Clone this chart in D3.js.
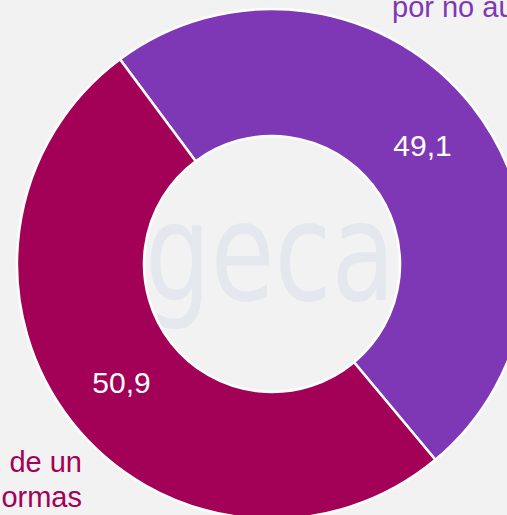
<!DOCTYPE html>
<html>
<head>
<meta charset="utf-8">
<script src="https://cdn.jsdelivr.net/npm/d3@7"></script>
<style>
  html, body { margin: 0; padding: 0; background: #f2f2f2; overflow: hidden; }
  svg { display: block; }
</style>
</head>
<body>
<svg id="chart" width="507" height="515"></svg>
<script>
const categories = ["por no au", "de un\normas"];
const values = [49.1, 50.9];
const valueLabels = ["49,1", "50,9"];
const colors = ["#7f38b5", "#a30057"];

const W = 507, H = 515;
const cx = 272, cy = 264, R = 255, r = 128;
const startDeg = -36.6;

const svg = d3.select("#chart");
svg.append("rect").attr("width", W).attr("height", H).attr("fill", "#f2f2f2");

// watermark
svg.append("text")
  .attr("x", cx - 2).attr("y", 300)
  .attr("text-anchor", "middle")
  .attr("font-family", "'DejaVu Sans', sans-serif")
  .attr("font-size", 138)
  .attr("textLength", 250)
  .attr("lengthAdjust", "spacingAndGlyphs")
  .attr("fill", "#e4e7ee")
  .text("geca");

const start = startDeg * Math.PI / 180;
const pie = d3.pie().sort(null).value(d => d)
  .startAngle(start).endAngle(start + 2 * Math.PI);
const arcs = pie(values);
const arc = d3.arc().innerRadius(r).outerRadius(R);

const g = svg.append("g").attr("transform", `translate(${cx},${cy})`);
g.selectAll("path").data(arcs).enter().append("path")
  .attr("d", arc)
  .attr("fill", (d, i) => colors[i])
  .attr("stroke", "#ffffff")
  .attr("stroke-width", 2.5)
  .attr("stroke-linejoin", "round");

g.selectAll("text.val").data(arcs).enter().append("text")
  .attr("class", "val")
  .attr("transform", d => `translate(${arc.centroid(d)})`)
  .attr("text-anchor", "middle")
  .attr("dy", "0.36em")
  .attr("font-family", "'Liberation Sans', Arial, sans-serif")
  .attr("font-size", 30)
  .attr("fill", "#ffffff")
  .text((d, i) => valueLabels[i]);

// outer labels (clipped by the frame, as in the reference)
svg.append("text")
  .attr("x", 392).attr("y", 17)
  .attr("font-family", "'Liberation Sans', Arial, sans-serif")
  .attr("font-size", 29)
  .attr("fill", colors[0])
  .text(categories[0]);

const lines = categories[1].split("\n");
svg.append("g").selectAll("text").data(lines).enter().append("text")
  .attr("x", 82)
  .attr("y", (d, i) => 471.5 + i * 35)
  .attr("text-anchor", "end")
  .attr("font-family", "'Liberation Sans', Arial, sans-serif")
  .attr("font-size", 29)
  .attr("fill", colors[1])
  .text(d => d);
</script>
</body>
</html>
